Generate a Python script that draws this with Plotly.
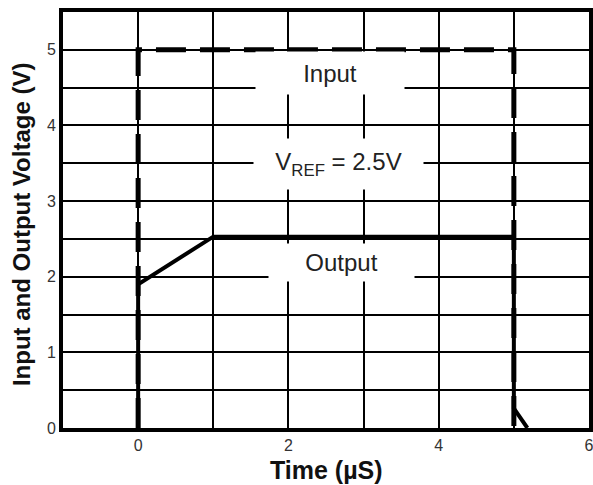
import plotly.graph_objects as go

# Data
input_t = [0, 0, 5, 5]
input_v = [0, 5, 5, 0]
output_t = [0, 0, 1, 5, 5, 5.18]
output_v = [0, 1.9, 2.53, 2.53, 0.26, 0]

x_tickvals = [0, 2, 4, 6]
x_ticktext = ["0", "2", "4", "6"]
y_tickvals = [0, 1, 2, 3, 4, 5]
y_ticktext = ["0", "1", "2", "3", "4", "5"]

labels = [
    ("Input", 2.55, 4.70, 146, 40),
    ("V<sub>REF</sub> = 2.5V", 2.66, 3.49, 167, 48),
    ("Output", 2.70, 2.19, 143, 35),
]

FONT = "Liberation Sans, Arial, sans-serif"

fig = go.Figure()
fig.add_trace(go.Scatter(x=output_t, y=output_v, mode="lines",
                         line=dict(color="black", width=4), hoverinfo="skip"))
fig.add_trace(go.Scatter(x=input_t, y=input_v, mode="lines",
                         line=dict(color="black", width=5, dash="30px,14px"),
                         hoverinfo="skip"))

for text, x, y, w, h in labels:
    fig.add_annotation(x=x, y=y, xref="x", yref="y", text=text, showarrow=False,
                       bgcolor="white", width=w, height=h,
                       font=dict(family=FONT, size=24, color="#222"))

# axis titles
fig.add_annotation(x=0.5, y=-0.1, xref="paper", yref="paper", text="<b>Time (µS)</b>",
                   xanchor="center", yanchor="middle",
                   showarrow=False, font=dict(family=FONT, size=25, color="#111"))
fig.add_annotation(x=-0.08, y=0.49, xref="paper", yref="paper",
                   text="<b>Input and Output Voltage (V)</b>", textangle=-90,
                   xanchor="center", yanchor="middle",
                   showarrow=False, font=dict(family=FONT, size=24, color="#111"))

fig.update_layout(
    width=593, height=485,
    margin=dict(l=63, r=4, t=12, b=57),
    paper_bgcolor="white", plot_bgcolor="white",
    showlegend=False,
    font=dict(family=FONT),
)
fig.update_xaxes(
    range=[-1, 6], tickmode="array", tickvals=x_tickvals, ticktext=x_ticktext,
    showgrid=True, gridcolor="black", gridwidth=2, zeroline=False,
    minor=dict(tickmode="linear", tick0=0, dtick=1, showgrid=True, gridcolor="black", gridwidth=2, ticks=""),
    showline=True, linecolor="black", linewidth=4, mirror=True, ticks="",
    tickfont=dict(family=FONT, size=16, color="#333"), automargin=False,
    ticklabeloverflow="allow",
)
fig.update_yaxes(
    range=[0, 5.5], tickmode="array", tickvals=y_tickvals, ticktext=y_ticktext,
    showgrid=True, gridcolor="black", gridwidth=2, zeroline=False,
    minor=dict(tickmode="linear", tick0=0, dtick=0.5, showgrid=True, gridcolor="black", gridwidth=2, ticks=""),
    showline=True, linecolor="black", linewidth=4, mirror=True, ticks="",
    tickfont=dict(family=FONT, size=16, color="#333"), automargin=False,
    ticklabeloverflow="allow",
)

fig.write_html(
    "out.html",
    config={"displayModeBar": False},
    post_script=(
        "document.documentElement.style.overflow='hidden';"
        "document.body.style.margin='0';document.body.style.overflow='hidden';"
        "window.dispatchEvent(new Event('resize'));"
    ),
)
